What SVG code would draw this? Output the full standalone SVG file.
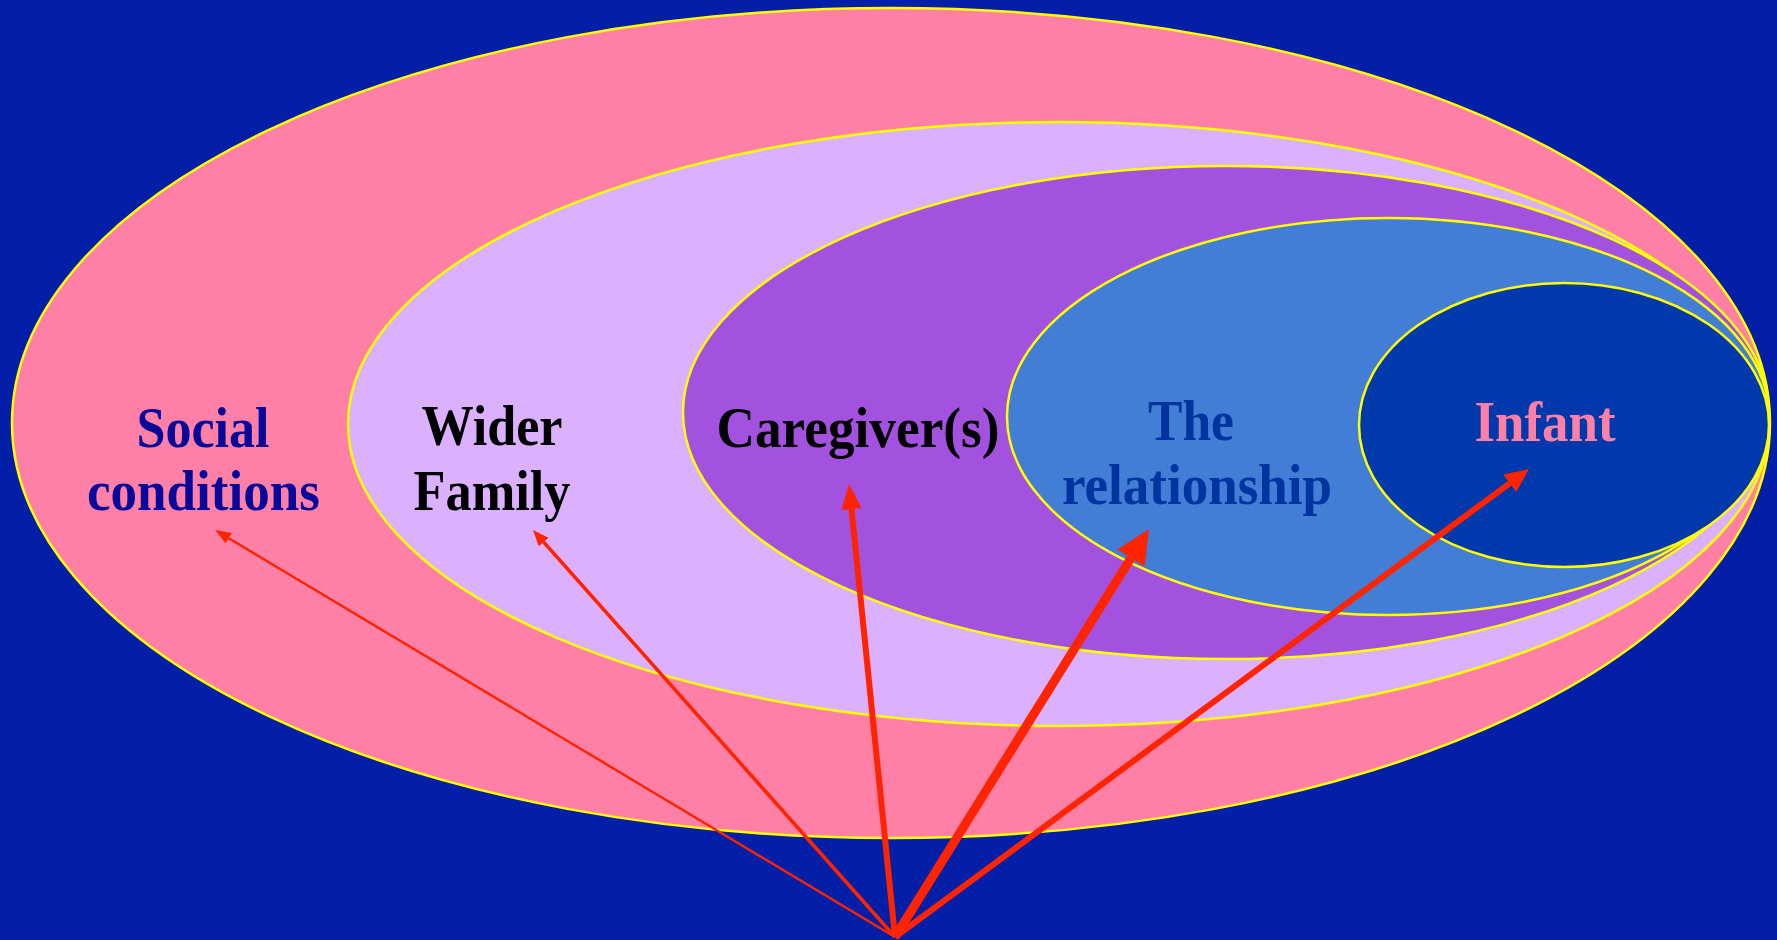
<svg xmlns="http://www.w3.org/2000/svg" width="1777" height="940" viewBox="0 0 1777 940">
<style>
.ring{stroke:#FFFF00;stroke-width:2.5}
.lbl{font-family:"Liberation Serif","Times New Roman",serif;font-weight:bold;font-size:56px;text-anchor:middle}
.ar{stroke:#FF2400;fill:none;stroke-linecap:butt}
.hd{fill:#FF2400}
</style>
<rect x="0" y="0" width="1777" height="940" fill="#031FA8"/>
<g id="social">
<ellipse class="ring" cx="891" cy="423" rx="879" ry="415" fill="#FF80A6"/>
<text class="lbl" fill="#08089A"><tspan x="203" y="447" textLength="133" lengthAdjust="spacingAndGlyphs">Social</tspan><tspan x="203.5" y="510" textLength="233" lengthAdjust="spacingAndGlyphs">conditions</tspan></text>
</g>
<g id="family">
<ellipse class="ring" cx="1058.5" cy="424" rx="710.5" ry="302" fill="#DAB0FF"/>
<text class="lbl" fill="#000000"><tspan x="492" y="445" textLength="141" lengthAdjust="spacingAndGlyphs">Wider</tspan><tspan x="492" y="510" textLength="157" lengthAdjust="spacingAndGlyphs">Family</tspan></text>
</g>
<g id="caregiver">
<ellipse class="ring" cx="1226" cy="412.5" rx="543" ry="246.5" fill="#A352E0"/>
<text class="lbl" fill="#000000" x="858" y="447" textLength="283" lengthAdjust="spacingAndGlyphs">Caregiver(s)</text>
</g>
<g id="relationship">
<ellipse class="ring" cx="1388" cy="416.5" rx="381" ry="198.5" fill="#427DD6"/>
<text class="lbl" fill="#0033A0"><tspan x="1191" y="440" textLength="86" lengthAdjust="spacingAndGlyphs">The</tspan><tspan x="1197" y="504" textLength="270" lengthAdjust="spacingAndGlyphs">relationship</tspan></text>
</g>
<g id="infant">
<ellipse class="ring" cx="1564" cy="425" rx="205" ry="142" fill="#0039AC"/>
<text class="lbl" fill="#FF80A6" x="1545" y="441" textLength="141" lengthAdjust="spacingAndGlyphs">Infant</text>
</g>
<g id="connectors">
<line class="ar" x1="895" y1="937" x2="228.7" y2="538.2" stroke-width="2.5"/>
<polygon class="hd" points="215,530 231.8,533.1 225.6,543.3"/>
<line class="ar" x1="895" y1="937" x2="543.6" y2="542" stroke-width="3.5"/>
<polygon class="hd" points="533,530 548.5,537.7 538.7,546.3"/>
<line class="ar" x1="895" y1="937" x2="851.5" y2="508.9" stroke-width="6"/>
<polygon class="hd" points="849,484 861.5,507.9 841.5,509.9"/>
<line class="ar" x1="895" y1="937" x2="1131" y2="557.9" stroke-width="9"/>
<polygon class="hd" points="1149,529 1144.6,566.4 1117.4,549.4"/>
<line class="ar" x1="895" y1="937" x2="1509.7" y2="483.3" stroke-width="6"/>
<polygon class="hd" points="1529,469 1516.2,492.1 1503.2,474.4"/>
</g>
</svg>
